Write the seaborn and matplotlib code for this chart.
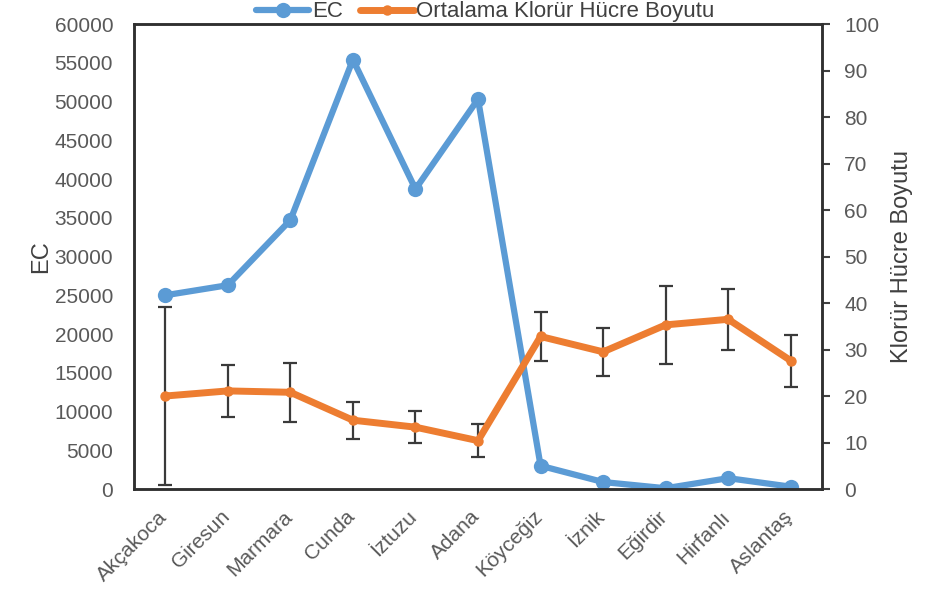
import pandas as pd
import matplotlib.pyplot as plt
import matplotlib.transforms as mtransforms
import seaborn as sns
import numpy as np

# data
stations = ["Akçakoca", "Giresun", "Marmara", "Cunda", "İztuzu", "Adana",
            "Köyceğiz", "İznik", "Eğirdir", "Hirfanlı", "Aslantaş"]
ec = [25000, 26300, 34700, 55400, 38700, 50300, 3000, 900, 100, 1400, 300]
cell_size = [20.0, 21.1, 20.8, 14.8, 13.3, 10.4, 32.8, 29.5, 35.3, 36.5, 27.6]
cell_err = [19.2, 5.6, 6.3, 4.0, 3.5, 3.5, 5.2, 5.1, 8.4, 6.5, 5.6]

df = pd.DataFrame({"station": stations, "ec": ec, "size": cell_size, "err": cell_err})
df["x"] = np.arange(len(df))

sns.set_style("white")
plt.rcParams["font.family"] = ["Liberation Sans", "DejaVu Sans"]

blue = "#5b9bd5"
orange = "#ed7d31"
grey = "#595959"

fig = plt.figure(figsize=(9.33, 5.96), dpi=100)
ax = fig.add_axes([0.1436, 0.1795, 0.7375, 0.7802])
ax2 = ax.twinx()

#EC line on left axis
sns.lineplot(data=df, x="x", y="ec", ax=ax, color=blue, linewidth=4.5,
             marker="o", markersize=11, markeredgewidth=0, label="EC", legend=False)

#cell size with error bars on right axis
ax2.errorbar(df["x"], df["size"], yerr=df["err"], fmt="none", ecolor="#3a3a3a",
             elinewidth=1.6, capsize=5, capthick=1.6, zorder=2)
sns.lineplot(data=df, x="x", y="size", ax=ax2, color=orange, linewidth=5,
             marker="o", markersize=7.5, markeredgewidth=0,
             label="Ortalama Klorür Hücre Boyutu", legend=False, zorder=3)

ax.set_xlim(-0.5, len(df) - 0.5)
ax.set_ylim(0, 60000)
ax2.set_ylim(0, 100)
ax.set_yticks(np.arange(0, 60001, 5000))
ax2.set_yticks(np.arange(0, 101, 10))
ax.set_xticks(df["x"])
ax.set_xticklabels(df["station"], rotation=45, ha="right", rotation_mode="anchor")

ax.set_xlabel("")
ax.set_ylabel("EC", fontsize=17, color="#404040", labelpad=2)
ax2.set_ylabel("Klorür Hücre Boyutu", fontsize=17, color="#404040", labelpad=8)

ax.tick_params(axis="y", labelsize=15, labelcolor=grey, length=0, pad=15)
ax.tick_params(axis="x", labelsize=15, labelcolor=grey, length=0, pad=13)
ax2.tick_params(axis="y", labelsize=15, labelcolor=grey, length=6, width=1.5,
                color="#404040", direction="out", pad=10)

# shift rotated labels a bit left like the original (after tick_params, which resets transforms)
shift = mtransforms.ScaledTranslation(-8 / 100, 0, fig.dpi_scale_trans)
for lab in ax.get_xticklabels():
    lab.set_transform(lab.get_transform() + shift)

for a in (ax, ax2):
    for s in a.spines.values():
        s.set_color("#303030")
        s.set_linewidth(1.8)

h1, l1 = ax.get_legend_handles_labels()
h2, l2 = ax2.get_legend_handles_labels()
fig.legend(h1 + h2, l1 + l2, loc="center", bbox_to_anchor=(0.52, 0.98), ncol=2,
           frameon=False, fontsize=16, labelcolor="#404040", handlelength=2.4,
           columnspacing=0.8, handletextpad=0.1, borderpad=0)

plt.savefig("out.png", dpi=100)
